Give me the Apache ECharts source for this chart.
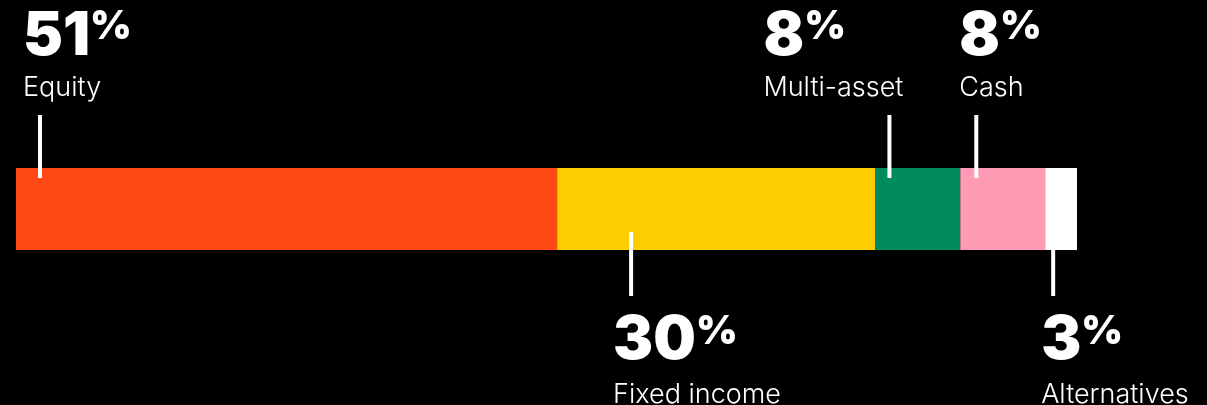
<!DOCTYPE html>
<html><head><meta charset="utf-8">
<script src="https://cdn.jsdelivr.net/npm/echarts@6/dist/echarts.min.js"></script>
<style>html,body{margin:0;padding:0;background:#000;overflow:hidden}#c{width:1207px;height:405px;}</style>
</head><body><div id="c"></div>
<script>
// ---- data ----
const categories = ['Equity', 'Fixed income', 'Multi-asset', 'Cash', 'Alternatives'];
const shares = [51, 30, 8, 8, 3];
const labelSides = ['top', 'bottom', 'top', 'top', 'bottom'];

// ---- styles ----
const colors = ['#FF4A15', '#FFCE00', '#008C5E', '#FF9BB5', '#FFFFFF'];
const leaderOffset = [24, 74, 14, 16, 8];      // px from segment start
const textOffset = [-17, -18, -126, -17, -12]; // px from leader line
const NUM_FONT = '900 60px Inter';
const PCT_FONT = '900 40px Inter';
const LBL_FONT = '300 27px Inter';

const mctx = document.createElement('canvas').getContext('2d');
function textW(font, s) { mctx.font = font; return mctx.measureText(s).width; }

let cum = 0;
const annData = shares.map((v, i) => { const s = cum; cum += v; return [s, 0, i]; });

const chart = echarts.init(document.getElementById('c'), null, {renderer: 'canvas'});
const series = shares.map((v, i) => ({
  name: categories[i], type: 'bar', stack: 'all', data: [v],
  barWidth: '100%', barCategoryGap: 0,
  itemStyle: {color: colors[i]}, silent: true
}));
series.push({
  type: 'custom', clip: false, silent: true, z: 10,
  data: annData,
  renderItem: function (params, api) {
    const i = api.value(2);
    const p = api.coord([api.value(0), 0]);
    const band = api.size([0, 1])[1];
    const top = p[1] - band / 2, bot = p[1] + band / 2;
    const lx = p[0] + leaderOffset[i];
    const tx = lx + textOffset[i];
    const num = String(shares[i]);
    const nw = textW(NUM_FONT, num);
    let l1, l2, ny, py, ly;
    if (labelSides[i] === 'top') {
      l1 = top - 53; l2 = top + 10;
      ny = top - 131; py = top - 141; ly = top - 80;
    } else {
      l1 = bot - 18; l2 = bot + 46;
      ny = bot + 91; py = bot + 82; ly = bot + 145;
    }
    return {
      type: 'group',
      children: [
        {type: 'line', shape: {x1: lx, y1: l1, x2: lx, y2: l2}, style: {stroke: '#fff', lineWidth: 4}},
        {type: 'text', x: tx, y: ny, style: {text: num, font: NUM_FONT, fill: '#fff', align: 'left', verticalAlign: 'middle'}},
        {type: 'text', x: tx + nw, y: py, style: {text: '%', font: PCT_FONT, fill: '#fff', align: 'left', verticalAlign: 'middle'}},
        {type: 'text', x: tx, y: ly, style: {text: categories[i], font: LBL_FONT, fill: '#fff', align: 'left', verticalAlign: 'middle'}}
      ]
    };
  }
});

chart.setOption({
  backgroundColor: '#000',
  animation: false,
  grid: {left: 16, right: 130, top: 168, bottom: 155},
  xAxis: {type: 'value', min: 0, max: 100, show: false},
  yAxis: {type: 'category', data: ['Allocation'], show: false},
  series: series
});
</script></body></html>
